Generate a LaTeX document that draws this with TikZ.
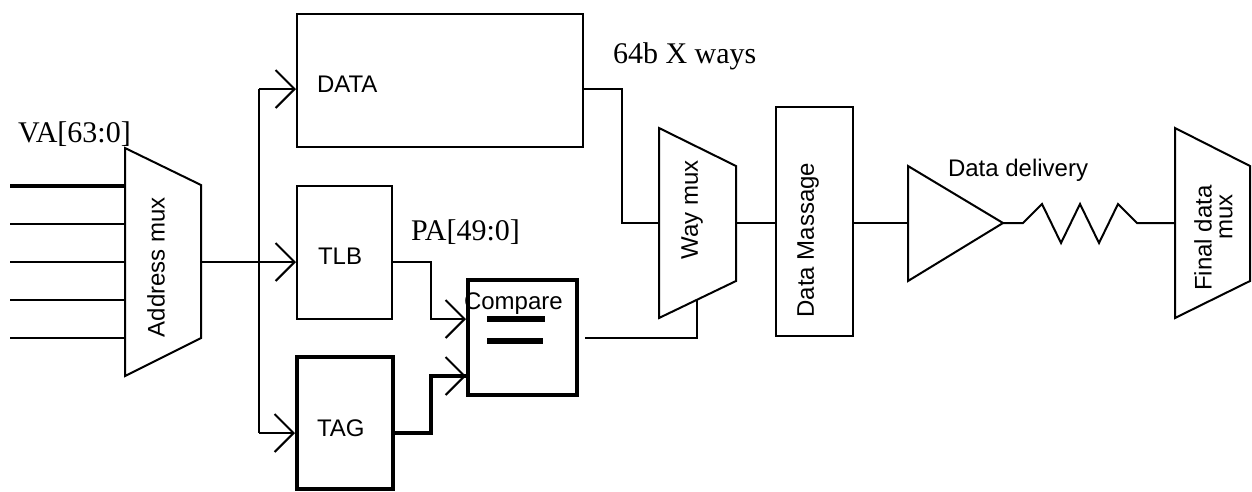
\documentclass[tikz,border=0pt]{standalone}
\usepackage{fontspec}
\setmainfont{Liberation Serif}
\setsansfont{Liberation Sans}
\usetikzlibrary{arrows.meta}
\begin{document}
\begin{tikzpicture}[x=1pt,y=-1pt,line width=2pt,line join=miter,
  box/.style={draw,rectangle,inner sep=0pt},
  thickbox/.style={box,line width=4pt},
  arr/.style={-{Straight Barb[length=19pt,width=38pt,line width=2pt]}},
  sans/.style={font=\sffamily\fontsize{24}{28}\selectfont,inner sep=0pt},
  serif/.style={font=\fontsize{30}{34}\selectfont,inner sep=0pt},
  thickwire/.style={line width=4pt}]
\useasboundingbox (0,0) rectangle (1252,491);

% ---------- boxes ----------
\node[box,minimum width=286pt,minimum height=133pt] (data) at (440,80.5) {};
\node[box,minimum width=95pt,minimum height=133pt] (tlb) at (344.5,252.5) {};
\node[thickbox,minimum width=96pt,minimum height=132pt] (tag) at (345,423) {};
\node[thickbox,minimum width=109pt,minimum height=115pt] (compare) at (522.5,337.5) {};
\node[box,minimum width=77pt,minimum height=229pt] (massage) at (814.5,221.5) {};

\node[sans,anchor=base west] (datalbl) at (316,92) {DATA};
\node[sans,anchor=base west] (tlblbl) at (317,264) {TLB};
\node[sans,anchor=base west] (taglbl) at (316,436) {TAG};
\node[sans,anchor=base west] (cmplbl) at (463,309) {Compare};
\draw[line width=6pt] (487,319) -- (545,319);
\draw[line width=6pt] (487,341) -- (543,341);
\node[sans,rotate=90] (massagelbl) at (808,240) {Data Massage};

% ---------- address mux ----------
\draw (125,148) -- (201,185) -- (201,338) -- (125,376) -- cycle;
\coordinate (amuxout) at (201,262);
\node[sans,rotate=90] (amuxlbl) at (156,267) {Address mux};
\node[serif,anchor=base west] (va) at (17,142) {VA[63:0]};
\foreach \i/\y/\w in {1/186/3.5pt,2/224/2pt,3/262/2pt,4/300/2pt,5/338/2pt}{
  \coordinate (in\i) at (10,\y);
  \coordinate (amuxin\i) at (125,\y);
  \draw[line width=\w] (in\i) -- (amuxin\i);
}

% ---------- way mux ----------
\draw (659,128) -- (736,166) -- (736,281) -- (659,318) -- cycle;
\coordinate (wmuxin) at (659,223);
\coordinate (wmuxout) at (736,223);
\coordinate (wmuxsel) at (697,300);
\node[sans,rotate=90] (wmuxlbl) at (692,210) {Way mux};

% ---------- driver and wire ----------
\draw (908,166) -- (1003,223) -- (908,281) -- cycle;
\coordinate (drvin) at (908,223);
\coordinate (drvout) at (1003,223);
\node[sans,anchor=base west] (deliv) at (947,176) {Data delivery};

% ---------- final mux ----------
\draw (1175,128) -- (1250,166) -- (1250,281) -- (1175,318) -- cycle;
\coordinate (fmuxin) at (1175,223);
\node[sans,rotate=90] (fmuxlblA) at (1203,238) {Final data};
\node[sans,rotate=90] (fmuxlblB) at (1226,217) {mux};

% ---------- labels ----------
\node[serif,anchor=base west] (pa) at (410,240) {PA[49:0]};
\node[serif,anchor=base west] (ways) at (612,63) {64b X ways};

% ---------- connectors ----------
\coordinate (bustop) at (259,89);
\coordinate (busbot) at (259,433);
\draw (amuxout) -- (bustop |- amuxout);
\draw[arr] (amuxout) -- (tlb.west |- amuxout);
\draw (bustop) -- (busbot);
\draw[arr] (bustop) -- (data.west |- bustop);
\draw[arr] (busbot) -- (tag.west |- busbot);

\draw[arr] (tlb.east |- amuxout) -- (431,262) -- (431,319) -- (compare.west |- 0,319);
\draw[thickwire] (tag.east |- busbot) -- (431,433) -- (431,376) -- (466,376);
\draw[arr] (450,376) -- (compare.west |- 0,376);

\draw (data.east |- bustop) -- (622,89) -- (622,223) -- (wmuxin);
\draw ([xshift=6pt]compare.east) -- (wmuxsel |- compare.east) -- (wmuxsel);
\draw (wmuxout) -- (massage.west |- wmuxout);
\draw (massage.east |- wmuxout) -- (drvin);
\draw (drvout) -- (1023,223) -- (1042,204) -- (1061,243) -- (1080,204)
  -- (1099,243) -- (1118,204) -- (1137,223) -- (fmuxin);
\end{tikzpicture}
\end{document}
